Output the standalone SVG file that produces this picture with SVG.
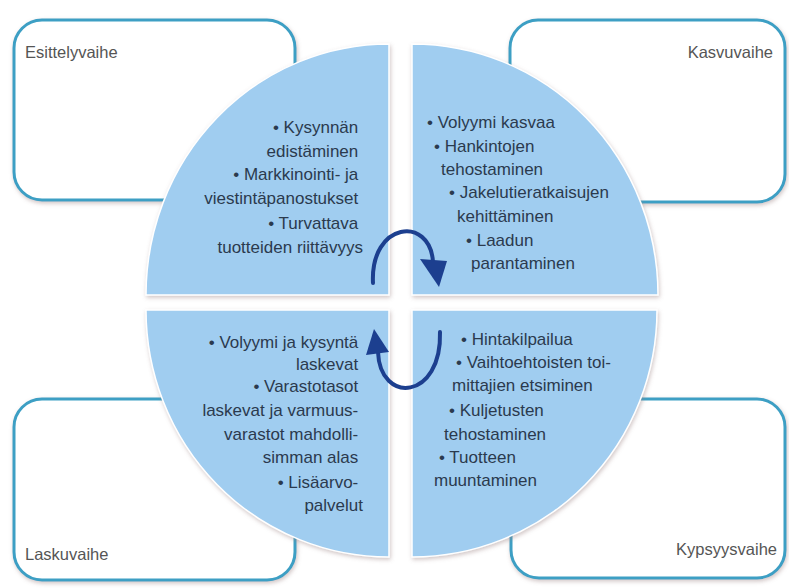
<svg xmlns="http://www.w3.org/2000/svg" width="789" height="588" viewBox="0 0 789 588">
<defs>
<filter id="sh" x="-10%" y="-10%" width="120%" height="120%">
<feDropShadow dx="1" dy="2" stdDeviation="2" flood-color="#9a8080" flood-opacity="0.45"/>
</filter>
<marker id="ah" viewBox="0 0 10 10" refX="5" refY="5" markerWidth="6" markerHeight="6" orient="auto"><path d="M0,0 L10,5 L0,10 Z" fill="#1c3f8f"/></marker>
<style>
.box{fill:#ffffff;stroke:#3c9fc4;stroke-width:3}
.quad{fill:#a0cdf0;stroke:#ffffff;stroke-width:1.5}
.lbl{font-family:"Liberation Sans",Arial,sans-serif;font-size:16.5px;fill:#555555}
.txt{font-family:"Liberation Sans",Arial,sans-serif;font-size:17px;fill:#2b3a4e}
.arc{fill:none;stroke:#1c3f8f;stroke-width:4;stroke-linecap:round}
.head{fill:#1c3f8f}
</style>
</defs>
<rect width="789" height="588" fill="#ffffff"/>

<g id="esittelyvaihe-box" filter="url(#sh)"><rect class="box" x="14" y="20" width="281" height="180" rx="28"/></g>
<g id="kasvuvaihe-box" filter="url(#sh)"><rect class="box" x="510" y="20" width="275" height="182" rx="28"/></g>
<g id="laskuvaihe-box" filter="url(#sh)"><rect class="box" x="14" y="399" width="281" height="181" rx="28"/></g>
<g id="kypsyysvaihe-box" filter="url(#sh)"><rect class="box" x="511" y="399" width="274" height="179" rx="28"/></g>

<g id="q-esittely">
<path class="quad" filter="url(#sh)" d="M389,295 L146,295 A243,251 0 0 1 389,44 Z"/>
<text class="txt" text-anchor="end">
<tspan x="363" y="133">• Kysynnän</tspan>
<tspan x="363" y="157">edistäminen</tspan>
<tspan x="363" y="180">• Markkinointi- ja</tspan>
<tspan x="363" y="204">viestintäpanostukset</tspan>
<tspan x="363" y="229">• Turvattava</tspan>
<tspan x="363" y="253">tuotteiden riittävyys</tspan>
</text>
</g>

<g id="q-kasvu">
<path class="quad" filter="url(#sh)" d="M412,295 L412,44 A246,251 0 0 1 658,295 Z"/>
<text class="txt">
<tspan x="427" y="128">• Volyymi kasvaa</tspan>
<tspan x="434" y="152">• Hankintojen</tspan>
<tspan x="441" y="175">tehostaminen</tspan>
<tspan x="449" y="198">• Jakelutieratkaisujen</tspan>
<tspan x="457" y="222">kehittäminen</tspan>
<tspan x="466" y="246">• Laadun</tspan>
<tspan x="471" y="269">parantaminen</tspan>
</text>
</g>

<g id="q-lasku">
<path class="quad" filter="url(#sh)" d="M389,310 L389,557 A243,247 0 0 1 146,310 Z"/>
<text class="txt" text-anchor="end">
<tspan x="363" y="348">• Volyymi ja kysyntä</tspan>
<tspan x="363" y="370">laskevat</tspan>
<tspan x="363" y="392">• Varastotasot</tspan>
<tspan x="363" y="416">laskevat ja varmuus-</tspan>
<tspan x="363" y="440">varastot mahdolli-</tspan>
<tspan x="363" y="463">simman alas</tspan>
<tspan x="363" y="488">• Lisäarvo-</tspan>
<tspan x="363" y="511">palvelut</tspan>
</text>
</g>

<g id="q-kypsyys">
<path class="quad" filter="url(#sh)" d="M412,310 L657,310 A245,247 0 0 1 412,557 Z"/>
<text class="txt">
<tspan x="461" y="345">• Hintakilpailua</tspan>
<tspan x="456" y="368">• Vaihtoehtoisten toi-</tspan>
<tspan x="452" y="391">mittajien etsiminen</tspan>
<tspan x="449" y="416">• Kuljetusten</tspan>
<tspan x="444" y="440">tehostaminen</tspan>
<tspan x="439" y="463">• Tuotteen</tspan>
<tspan x="434" y="486">muuntaminen</tspan>
</text>
</g>

<g id="labels">
<text class="lbl" x="25" y="58">Esittelyvaihe</text>
<text class="lbl" x="773" y="58" text-anchor="end">Kasvuvaihe</text>
<text class="lbl" x="25" y="560">Laskuvaihe</text>
<text class="lbl" x="777" y="555" text-anchor="end">Kypsyysvaihe</text>
</g>

<g id="connectors">
<path class="arc" d="M373,283 C370,222 430,215 433,262"/>
<polygon class="head" points="420,259 447,261 439,287"/>
<path class="arc" d="M440,332 C442,400 380,405 378,352"/>
<polygon class="head" points="366,355 389,352 374,329"/>
</g>
</svg>
